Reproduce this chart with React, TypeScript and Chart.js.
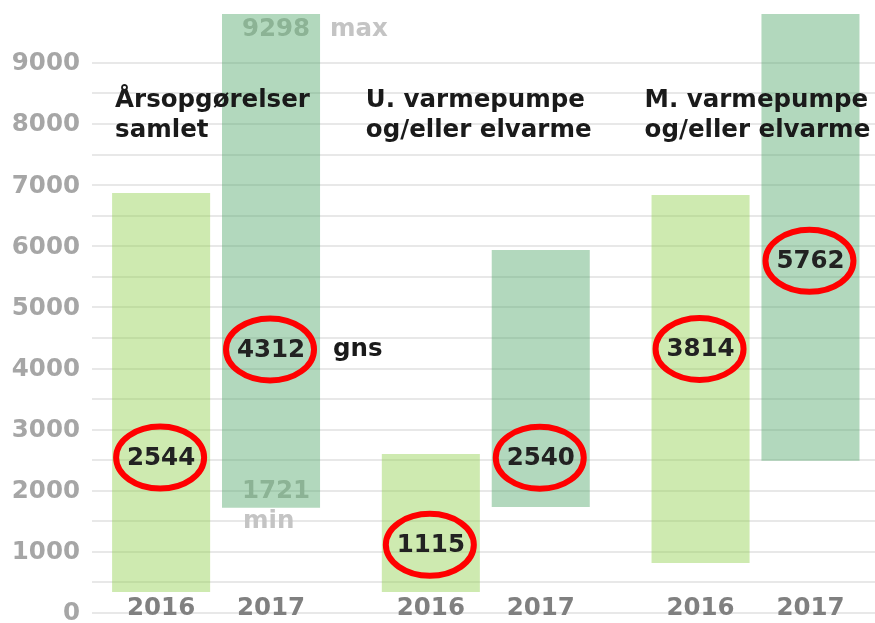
import React, { useEffect, useRef } from 'react';
import { Chart, registerables } from 'chart.js';

Chart.register(...registerables);

// ---- data ----
const groupLabels = [
  ['Årsopgørelser', 'samlet'],
  ['U. varmepumpe', 'og/eller elvarme'],
  ['M. varmepumpe', 'og/eller elvarme'],
];
const years = ['2016', '2017'];
const min2016 = [345, 345, 820];
const max2016 = [6870, 2600, 6840];
const min2017 = [1721, 1735, 2490];
const max2017 = [9800, 5940, 9800];
const avg2016Text = ['2544', '1115', '3814'];
const avg2016Level = [2544, 1115, 4320];
const avg2017Text = ['4312', '2540', '5762'];
const avg2017Level = [4312, 2540, 5762];
const maxNote = ['9298', 'max'];
const minNote = ['1721', 'min'];
const avgNote = 'gns';
const yTickLabels = [0, 1000, 2000, 3000, 4000, 5000, 6000, 7000, 8000, 9000];
const yGridValues = [0, 500, 1000, 1500, 2000, 2500, 3000, 3500, 4000, 4500, 5000, 5500, 6000, 6500, 7000, 7500, 8000, 8500, 9000];
const yMax = 9800;

const FONT = '"DejaVu Sans", "Liberation Sans", sans-serif';
const FS = 24.5;

const overlay = {
  id: 'overlay',
  afterDatasetsDraw(chart: any) {
    const ctx = chart.ctx as CanvasRenderingContext2D;
    const ys = chart.scales.y;
    const area = chart.chartArea;
    const m0 = chart.getDatasetMeta(0).data;
    const m1 = chart.getDatasetMeta(1).data;
    ctx.save();
    ctx.font = `bold ${FS}px ${FONT}`;
    ctx.textBaseline = 'middle';

    // y axis labels
    ctx.textAlign = 'right';
    ctx.fillStyle = '#a6a6a6';
    yTickLabels.forEach((v) => ctx.fillText(String(v), area.left - 12, ys.getPixelForValue(v) + 1));

    ctx.textAlign = 'center';
    [m0, m1].forEach((bars: any[], di) => {
      const levels = di === 0 ? avg2016Level : avg2017Level;
      const texts = di === 0 ? avg2016Text : avg2017Text;
      bars.forEach((bar: any, i: number) => {
        const cx = bar.x - 1;
        const cy = ys.getPixelForValue(levels[i]);
        ctx.beginPath();
        ctx.ellipse(cx, cy, 44, 31, 0, 0, Math.PI * 2);
        ctx.lineWidth = 6;
        ctx.strokeStyle = '#ff0000';
        ctx.stroke();
        ctx.fillStyle = '#222222';
        ctx.fillText(texts[i], bar.x, cy + 1);
        ctx.fillStyle = '#808080';
        ctx.fillText(years[di], bar.x, area.bottom - 4);
      });
    });

    // group titles
    ctx.textAlign = 'left';
    ctx.fillStyle = '#1a1a1a';
    const offs = [-46, -65, -56];
    groupLabels.forEach((lines, g) => {
      const x0 = m0[g].x + offs[g];
      lines.forEach((t, li) => ctx.fillText(t, x0, 101 + li * 30));
    });

    // notes on first 2017 bar
    const b = m1[0] as any;
    ctx.textAlign = 'center';
    ctx.fillStyle = '#8cb395';
    ctx.fillText(maxNote[0], b.x + 5, 30);
    ctx.fillText(minNote[0], b.x + 5, 492);
    ctx.textAlign = 'left';
    ctx.fillStyle = '#c4c4c4';
    ctx.fillText(maxNote[1], b.x + 59, 30);
    ctx.fillText(minNote[1], b.x - 28, 522);
    ctx.fillStyle = '#1a1a1a';
    ctx.fillText(avgNote, b.x + 62, ys.getPixelForValue(avg2017Level[0]));
    ctx.restore();
  },
};

export default function App() {
  const ref = useRef<HTMLCanvasElement>(null);
  useEffect(() => {
    if (!ref.current) return;
    const chart = new Chart(ref.current, {
      type: 'bar',
      data: {
        datasets: [
          {
            label: years[0],
            data: groupLabels.map((_, i) => ({ x: i, y: [min2016[i], max2016[i]] })) as any,
            backgroundColor: 'rgba(146,208,80,0.45)',
            borderWidth: 0,
          },
          {
            label: years[1],
            data: groupLabels.map((_, i) => ({ x: i, y: [min2017[i], max2017[i]] })) as any,
            backgroundColor: 'rgba(84,168,108,0.45)',
            borderWidth: 0,
          },
        ],
      },
      options: {
        responsive: false,
        animation: false,
        categoryPercentage: 0.815,
        barPercentage: 0.892,
        layout: { padding: { top: 14, bottom: 10, left: 0, right: 0 } },
        plugins: { legend: { display: false }, tooltip: { enabled: false } },
        scales: {
          x: {
            type: 'linear',
            min: -0.46,
            max: 2.443,
            offset: false,
            display: false,
            afterBuildTicks: (s: any) => {
              s.ticks = groupLabels.map((_, i) => ({ value: i }));
            },
          },
          y: {
            min: 0,
            max: yMax,
            border: { display: false },
            grid: {
              drawTicks: false,
              lineWidth: 2,
              color: '#e8e8e8',
            },
            ticks: { display: false, autoSkip: false },
            afterBuildTicks: (s: any) => {
              s.ticks = yGridValues.map((v) => ({ value: v }));
            },
            afterFit: (s: any) => {
              s.width = 92;
              s.paddingTop = 0;
              s.paddingBottom = 0;
            },
          },
        },
      } as any,
      plugins: [overlay],
    });
    return () => chart.destroy();
  }, []);
  return (
    <div style={{ position: 'fixed', left: 0, top: 0, width: 875, height: 623, background: '#fff' }}>
      <canvas ref={ref} width={875} height={623} />
    </div>
  );
}
